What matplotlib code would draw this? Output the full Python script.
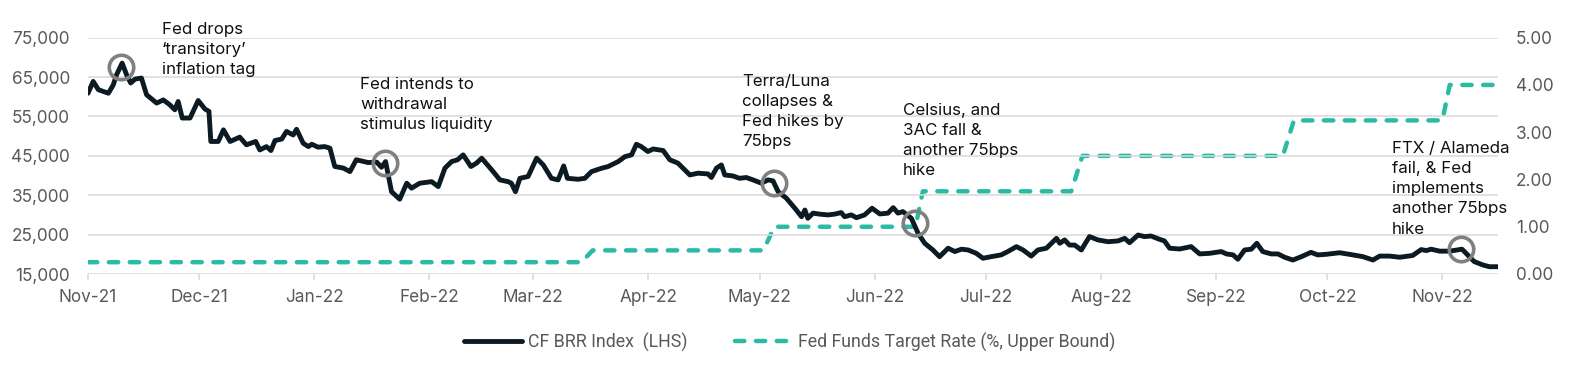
import matplotlib
matplotlib.use("Agg")
import matplotlib.pyplot as plt
import matplotlib.dates as mdates
from matplotlib.ticker import FuncFormatter
from matplotlib.font_manager import FontProperties
import pandas as pd

# ---------------- data ----------------
start_date = "2021-11-01"
end_date = "2022-11-16"

# CF BRR Index (days since 2021-11-01, USD)
btc_day = [0, 1.4, 2.8, 5.5, 6.8, 7.7, 9.2, 10.4, 11.5, 12.7, 14.4, 15.8, 18.5, 20.3, 22.0,
           23.4, 24.3, 25.4, 27.5, 29.7, 31.5, 32.6, 33.1, 35.1, 36.5, 38.3, 40.9, 42.7, 45.2,
           46.3, 48.1, 49.3, 50.4, 52.2, 53.5, 55.3, 56.2, 58.0, 59.4, 60.3, 62.0, 63.8, 65.2,
           66.5, 68.8, 70.6, 72.3, 75.5, 77.8, 79.1, 80.2, 81.8, 84.0, 85.9, 87.2, 89.4, 92.6,
           94.4, 96.2, 98.0, 99.6, 101.1, 103.2, 104.7, 106.1, 108.8, 111.0, 113.2, 114.1,
           115.2, 116.4, 118.6, 120.9, 122.7, 124.9, 126.7, 128.2, 129.2, 132.1, 133.9, 135.7,
           138.4, 140.2, 141.5, 142.9, 144.7, 146.5, 147.8, 149.1, 150.9, 152.3, 155.0, 156.8,
           159.0, 160.8, 162.2, 164.4, 167.1, 168.0, 169.4, 170.7, 171.6, 173.8, 175.6, 177.4,
           179.2, 181.5, 183.3, 184.6, 186.0, 188.2, 190.5, 192.3, 193.2, 194.0, 195.4, 197.2,
           199.4, 201.2, 203.0, 203.9, 205.7, 207.1, 209.3, 211.3, 213.4, 215.6, 217.0, 218.3,
           219.6, 221.9, 223.7, 225.5, 227.7, 229.5, 231.8, 233.6, 235.4, 237.2, 239.4, 241.2,
           243.4, 246.1, 247.9, 250.2, 252.0, 254.2, 256.0, 258.3, 261.0, 261.9, 263.2, 264.5,
           265.9, 267.7, 269.9, 272.2, 274.9, 277.6, 279.4, 280.7, 283.0, 284.7, 286.5, 288.5,
           290.1, 291.5, 294.2, 297.3, 299.6, 302.3, 305.4, 306.8, 308.6, 309.9, 311.7, 313.5,
           315.0, 316.6, 318.9, 320.7, 322.5, 324.7, 327.0, 329.6, 331.4, 333.7, 337.3, 340.9,
           343.6, 346.3, 348.1, 350.8, 353.5, 357.0, 359.3, 360.7, 362.0, 364.3, 367.0, 370.3,
           371.4, 373.6, 375.9, 377.7, 380.0]
btc_value = [60900, 63900, 61800, 60900, 63000, 65600, 68550, 65600, 63500, 64500, 64750, 60500,
             58400, 59200, 58000, 56700, 58800, 54600, 54600, 59050, 56900, 56300, 48650, 48650,
             51600, 48650, 49750, 47800, 48650, 46500, 47350, 46350, 48900, 49250, 51200, 50300,
             51750, 48200, 47350, 47950, 47200, 47350, 46950, 42300, 41900, 41000, 44000, 43300,
             43400, 42100, 43550, 35900, 34000, 38050, 36800, 38050, 38450, 37200, 41900, 43550,
             44000, 45250, 42300, 43150, 44400, 41450, 38900, 38450, 38050, 35900, 39300, 39750,
             44400, 42700, 39300, 38900, 42450, 39300, 39050, 39300, 41000, 41850, 42300, 42900,
             43550, 44800, 45250, 47950, 47350, 46100, 46750, 46350, 44000, 43150, 41450, 40150,
             40600, 40400, 39500, 41900, 42700, 40150, 39900, 39300, 39500, 38900, 38050, 38900,
             38650, 35900, 34250, 31700, 29550, 31250, 29150, 30450, 30200, 30000, 30200, 30600,
             29550, 30000, 29300, 30000, 31700, 30250, 30450, 31850, 30450, 30850, 29150, 25350,
             22800, 21100, 19400, 21550, 20700, 21300, 21100, 20250, 19000, 19400, 19850, 20700,
             21950, 21100, 19550, 21100, 21550, 24050, 22800, 23650, 22350, 22350, 21100, 24500,
             23650, 23200, 23400, 24050, 22950, 24900, 24500, 24650, 23900, 23400, 21550, 21350,
             21950, 20100, 20250, 20700, 20100, 19850, 18750, 21100, 21300, 22800, 20700, 20100,
             20100, 19250, 18550, 19400, 20500, 19850, 20000, 20400, 19850, 19400, 18550, 19550,
             19550, 19250, 19700, 21200, 20950, 21300, 20800, 20800, 21300, 20250, 18150, 17300,
             16850, 16850]

# Fed Funds Target Rate, upper bound (%)
fed_dates = ["2021-11-01", "2022-03-14", "2022-03-17", "2022-05-02", "2022-05-05",
             "2022-06-12", "2022-06-14", "2022-07-24", "2022-07-27", "2022-09-19",
             "2022-09-22", "2022-11-01", "2022-11-03", "2022-11-16"]
fed_rate = [0.25, 0.25, 0.50, 0.50, 1.00, 1.00, 1.75, 1.75, 2.50, 2.50, 3.25, 3.25, 4.00, 4.00]

# event markers (circled points on the index line)
event_dates = ["2021-11-10", "2022-01-20", "2022-05-05", "2022-06-12", "2022-11-06"]
event_values = [67600, 43300, 38050, 27900, 21300]
event_labels = ["Fed drops\n\u2018transitory\u2019\ninflation tag",
                "Fed intends to\nwithdrawal\nstimulus liquidity",
                "Terra/Luna\ncollapses &\nFed hikes by\n75bps",
                "Celsius, and\n3AC fall &\nanother 75bps\nhike",
                "FTX / Alameda\nfail, & Fed\nimplements\nanother 75bps\nhike"]

left_ticks = [15000, 25000, 35000, 45000, 55000, 65000, 75000]
right_ticks = [0, 1, 2, 3, 4, 5]
series_names = ["CF BRR Index  (LHS)", "Fed Funds Target Rate (%, Upper Bound)"]

# ---------------- styling ----------------
W, H = 1574, 365
NAVY = "#0b1a23"
TEAL = "#2bbba4"
GRID = "#d9d9d9"
TICKC = "#595959"
CIRC = "#808080"
FONT = "Inter"

fig = plt.figure(figsize=(W / 100, H / 100), dpi=100)
ax = fig.add_axes([88 / W, 1 - 274 / H, (1498 - 88) / W, (274 - 37.7) / H])
ax2 = ax.twinx()

start = pd.Timestamp(start_date)
btc_dates = start + pd.to_timedelta(btc_day, unit="D")
fed_dt = pd.to_datetime(fed_dates)
ev_dt = pd.to_datetime(event_dates)

l2, = ax2.plot(fed_dt, fed_rate, color=TEAL, lw=3.2, dashes=(2.1, 2.6),
               dash_capstyle="round", solid_capstyle="round")
l1, = ax.plot(btc_dates, btc_value, color=NAVY, lw=3.5, solid_joinstyle="round",
              solid_capstyle="round", zorder=3)
ax.plot(ev_dt, event_values, "o", ms=17.6, mfc="none", mec=CIRC, mew=2.6, zorder=5,
        clip_on=False)

ax.set_zorder(ax2.get_zorder() + 1)
ax.patch.set_visible(False)

ax.set_xlim(start, pd.Timestamp(end_date))
ax.set_ylim(15000, 75000)
ax2.set_ylim(0, 5)
ax.set_yticks(left_ticks)
ax2.set_yticks(right_ticks)
ax.yaxis.set_major_formatter(FuncFormatter(lambda v, p: f"{v:,.0f}"))
ax2.yaxis.set_major_formatter(FuncFormatter(lambda v, p: f"{v:.2f}"))
ax.xaxis.set_major_locator(mdates.MonthLocator())
ax.xaxis.set_major_formatter(mdates.DateFormatter("%b-%y"))

ax.yaxis.grid(True, color=GRID, lw=1.1)
ax.xaxis.grid(False)
for a in (ax, ax2):
    for s in a.spines.values():
        s.set_visible(False)

tick_font = FontProperties(family=FONT, size=12.4)
ax.tick_params(axis="x", length=4.5, width=1.1, color=GRID, pad=6.0, labelcolor=TICKC)
ax.tick_params(axis="y", length=0, pad=13.0, labelcolor=TICKC)
ax2.tick_params(axis="y", length=0, pad=13.0, labelcolor=TICKC)
for lab in ax.get_xticklabels() + ax.get_yticklabels() + ax2.get_yticklabels():
    lab.set_fontproperties(tick_font)

# annotations (pixel positions of each label's top-left corner)
label_pos = [(162, 22), (360, 77), (742, 74), (903, 103), (1392, 141)]
for txt, (px, py) in zip(event_labels, label_pos):
    fig.text(px / W, 1 - py / H, txt, ha="left", va="top", fontsize=12.2,
             family=FONT, color="#111111", linespacing=1.43)

leg_font = FontProperties(family="Roboto", size=12.8)
leg = fig.legend([l1, l2], series_names, loc="center", bbox_to_anchor=(790 / W, 1 - 342 / H),
                 ncol=2, frameon=False, prop=leg_font,
                 handlelength=3.25, handletextpad=0.3, columnspacing=2.7)
for t in leg.get_texts():
    t.set_color(TICKC)

fig.savefig("out.png", dpi=100)
